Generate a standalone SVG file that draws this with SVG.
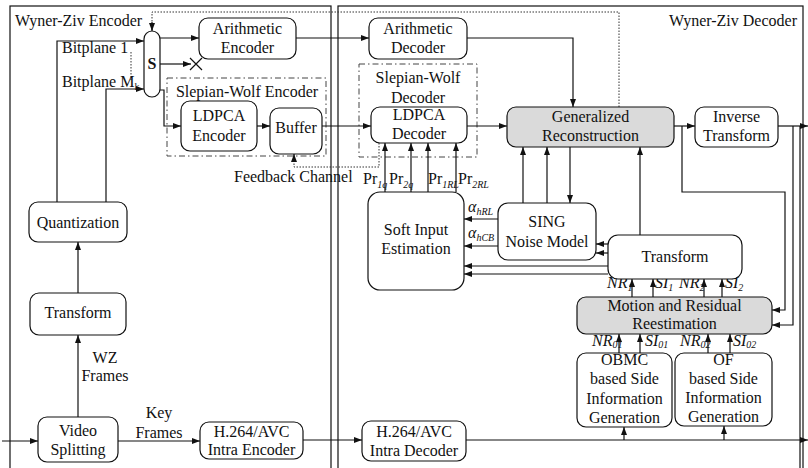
<svg xmlns="http://www.w3.org/2000/svg" width="808" height="468" viewBox="0 0 808 468">
<style>
text{font-family:"Liberation Serif","Times New Roman",serif;font-size:16px;fill:#111}
.c{text-anchor:middle}
.it{font-style:italic}
.sub{font-size:10px;font-style:italic}
.box{fill:#fff;stroke:#111;stroke-width:1.2}
.gray{fill:#dadada;stroke:#111;stroke-width:1.2}
.frame{fill:none;stroke:#111;stroke-width:1.2}
.sw{fill:none;stroke:#444;stroke-width:1;stroke-dasharray:6,3,1.5,3}
.ln{fill:none;stroke:#111;stroke-width:1.2}
.dot{fill:none;stroke:#333;stroke-width:1;stroke-dasharray:1.5,1.5}
</style>
<defs>
<marker id="ah" markerUnits="userSpaceOnUse" markerWidth="9" markerHeight="7" refX="8" refY="3" orient="auto">
<path d="M0,0 L8,3 L0,6 z" fill="#111"/>
</marker>
</defs>
<rect width="808" height="468" fill="#fff"/>
<g id="frames">
<rect class="frame" x="10" y="6" width="321" height="470"/>
<rect class="frame" x="338" y="6" width="465" height="470"/>
<text x="15" y="26">Wyner-Ziv Encoder</text>
<text x="797" y="26" text-anchor="end">Wyner-Ziv Decoder</text>
</g>
<g id="sw-encoder">
<rect class="sw" x="167" y="78" width="159" height="78"/>
<text class="c" x="247" y="97">Slepian-Wolf Encoder</text>
</g>
<g id="sw-decoder">
<rect class="sw" x="359" y="64" width="118" height="93"/>
<text class="c" x="418" y="83">Slepian-Wolf</text>
<text class="c" x="418" y="103">Decoder</text>
</g>
<g id="connectors">
<path class="ln" d="M2,441 H38" marker-end="url(#ah)"/>
<path class="ln" d="M118,441 H200" marker-end="url(#ah)"/>
<path class="ln" d="M78,417 V335" marker-end="url(#ah)"/>
<path class="ln" d="M78,293 V242" marker-end="url(#ah)"/>
<path class="ln" d="M57,202 V41 H144" marker-end="url(#ah)"/>
<path class="ln" d="M106,202 V89 H144" marker-end="url(#ah)"/>
<path class="dot" d="M131,52 V80"/>
<path class="ln" d="M160,38 H199" marker-end="url(#ah)"/>
<path class="ln" d="M160,64 H191" marker-end="url(#ah)"/>
<path class="ln" d="M190,58 L202,70 M190,70 L202,58" stroke-width="1"/>
<path class="ln" d="M160,90 H164 V126 H181" marker-end="url(#ah)"/>
<path class="ln" d="M257,126 H270" marker-end="url(#ah)"/>
<path class="ln" d="M322,126 H371" marker-end="url(#ah)"/>
<path class="ln" d="M296,38 H369" marker-end="url(#ah)"/>
<path class="ln" d="M467,38 H573 V107" marker-end="url(#ah)"/>
<path class="dot" d="M619,107 V12 H152 V30"/>
<path class="ln" d="M152,22 V31" marker-end="url(#ah)"/>
<path class="dot" d="M379,143 V167 H294 V156"/>
<path class="ln" d="M294,160 V154" marker-end="url(#ah)"/>
<path class="ln" d="M303,440 H362" marker-end="url(#ah)"/>
<path class="ln" d="M466,440 H808" marker-end="url(#ah)"/>
<path class="ln" d="M624,440 V427" marker-end="url(#ah)"/>
<path class="ln" d="M724,440 V426" marker-end="url(#ah)"/>
<path class="ln" d="M467,126 H507" marker-end="url(#ah)"/>
<path class="ln" d="M674,126 H695" marker-end="url(#ah)"/>
<path class="ln" d="M778,126 H808" marker-end="url(#ah)"/>
<path class="ln" d="M800,126 V470"/>
<path class="ln" d="M682,126 V192 H785 V310 H772" marker-end="url(#ah)"/>
<path class="ln" d="M793,126 V325 H772" marker-end="url(#ah)"/>
<path class="ln" d="M385,192 V143" marker-end="url(#ah)"/>
<path class="ln" d="M411,192 V143" marker-end="url(#ah)"/>
<path class="ln" d="M428,192 V143" marker-end="url(#ah)"/>
<path class="ln" d="M456,192 V143" marker-end="url(#ah)"/>
<path class="ln" d="M498,219 H464" marker-end="url(#ah)"/>
<path class="ln" d="M498,246 H464" marker-end="url(#ah)"/>
<path class="ln" d="M608,266 H464" marker-end="url(#ah)"/>
<path class="ln" d="M608,274 H464" marker-end="url(#ah)"/>
<path class="ln" d="M608,244 H596" marker-end="url(#ah)"/>
<path class="ln" d="M608,253 H596" marker-end="url(#ah)"/>
<path class="ln" d="M523,203 V147" marker-end="url(#ah)"/>
<path class="ln" d="M547,203 V147" marker-end="url(#ah)"/>
<path class="ln" d="M570,147 V203" marker-end="url(#ah)"/>
<path class="ln" d="M640,235 V147" marker-end="url(#ah)"/>
<path class="ln" d="M632,297 V279" marker-end="url(#ah)"/>
<path class="ln" d="M653,297 V279" marker-end="url(#ah)"/>
<path class="ln" d="M704,297 V279" marker-end="url(#ah)"/>
<path class="ln" d="M722,297 V279" marker-end="url(#ah)"/>
<path class="ln" d="M619,353 V334" marker-end="url(#ah)"/>
<path class="ln" d="M640,353 V334" marker-end="url(#ah)"/>
<path class="ln" d="M708,353 V334" marker-end="url(#ah)"/>
<path class="ln" d="M730,353 V334" marker-end="url(#ah)"/>
</g>
<g id="labels">
<text x="62" y="53">Bitplane 1</text>
<text x="62" y="87">Bitplane M<tspan font-size="10" dy="3">k</tspan></text>
<text x="234" y="182">Feedback Channel</text>
<text class="c" x="105" y="363">WZ</text>
<text class="c" x="105" y="381">Frames</text>
<text class="c" x="159" y="418">Key</text>
<text class="c" x="159" y="438">Frames</text>
<text x="363" y="184">Pr<tspan class="sub" dy="4">1q</tspan></text>
<text x="389" y="184">Pr<tspan class="sub" dy="4">2q</tspan></text>
<text x="428" y="184">Pr<tspan class="sub" dy="4">1RL</tspan></text>
<text x="458" y="184">Pr<tspan class="sub" dy="4">2RL</tspan></text>
<text x="468" y="212" class="it" font-size="18">α<tspan class="sub" dy="3">hRL</tspan></text>
<text x="468" y="238" class="it" font-size="18">α<tspan class="sub" dy="3">hCB</tspan></text>
<text x="607" y="288" class="it">NR<tspan class="sub" dy="3">1</tspan></text>
<text x="655" y="288" class="it">SI<tspan class="sub" dy="3">1</tspan></text>
<text x="679" y="288" class="it">NR<tspan class="sub" dy="3">2</tspan></text>
<text x="725" y="288" class="it">SI<tspan class="sub" dy="3">2</tspan></text>
<text x="592" y="346" class="it">NR<tspan class="sub" font-size="9" dy="2">01</tspan></text>
<text x="645" y="346" class="it">SI<tspan class="sub" font-size="9" dy="2">01</tspan></text>
<text x="680" y="346" class="it">NR<tspan class="sub" font-size="9" dy="2">02</tspan></text>
<text x="733" y="346" class="it">SI<tspan class="sub" font-size="9" dy="2">02</tspan></text>
</g>
<g id="switch">
<rect class="box" x="144" y="31" width="16" height="66" rx="8"/>
<text class="c" x="152" y="69" font-weight="bold">S</text>
</g>
<g id="arith-enc">
<rect class="box" x="199" y="18" width="97" height="41" rx="9"/>
<text class="c" x="247.5" y="34">Arithmetic</text>
<text class="c" x="247.5" y="53">Encoder</text>
</g>
<g id="ldpca-enc">
<rect class="box" x="181" y="101" width="76" height="50" rx="9"/>
<text class="c" x="219" y="121">LDPCA</text>
<text class="c" x="219" y="141">Encoder</text>
</g>
<g id="buffer">
<rect class="box" x="270" y="108" width="52" height="46" rx="9"/>
<text class="c" x="296" y="133">Buffer</text>
</g>
<g id="quantization">
<rect class="box" x="29" y="202" width="98" height="40" rx="9"/>
<text class="c" x="78" y="228">Quantization</text>
</g>
<g id="transform-enc">
<rect class="box" x="30" y="293" width="96" height="42" rx="9"/>
<text class="c" x="78" y="318">Transform</text>
</g>
<g id="video-splitting">
<rect class="box" x="38" y="417" width="80" height="45" rx="9"/>
<text class="c" x="78" y="436">Video</text>
<text class="c" x="78" y="455">Splitting</text>
</g>
<g id="h264-enc">
<rect class="box" x="200" y="422" width="103" height="37" rx="9"/>
<text class="c" x="251.5" y="437">H.264/AVC</text>
<text class="c" x="251.5" y="455">Intra Encoder</text>
</g>
<g id="arith-dec">
<rect class="box" x="369" y="18" width="98" height="41" rx="9"/>
<text class="c" x="418" y="34">Arithmetic</text>
<text class="c" x="418" y="53">Decoder</text>
</g>
<g id="ldpca-dec">
<rect class="box" x="371" y="107" width="96" height="36" rx="9"/>
<text class="c" x="419" y="120">LDPCA</text>
<text class="c" x="419" y="139">Decoder</text>
</g>
<g id="gen-rec">
<rect class="gray" x="507" y="107" width="167" height="40" rx="9"/>
<text class="c" x="590.5" y="122">Generalized</text>
<text class="c" x="590.5" y="141">Reconstruction</text>
</g>
<g id="inv-transform">
<rect class="box" x="695" y="107" width="83" height="40" rx="9"/>
<text class="c" x="736.5" y="122">Inverse</text>
<text class="c" x="736.5" y="141">Transform</text>
</g>
<g id="soft-input">
<rect class="box" x="368" y="192" width="96" height="98" rx="12"/>
<text class="c" x="416" y="235">Soft Input</text>
<text class="c" x="416" y="254">Estimation</text>
</g>
<g id="sing">
<rect class="box" x="498" y="203" width="98" height="57" rx="10"/>
<text class="c" x="547" y="227">SING</text>
<text class="c" x="547" y="247">Noise Model</text>
</g>
<g id="transform-dec">
<rect class="box" x="608" y="235" width="134" height="44" rx="10"/>
<text class="c" x="675" y="262">Transform</text>
</g>
<g id="motion-residual">
<rect class="gray" x="577" y="297" width="195" height="37" rx="9"/>
<text class="c" x="674.5" y="311">Motion and Residual</text>
<text class="c" x="674.5" y="329">Reestimation</text>
</g>
<g id="obmc">
<rect class="box" x="577" y="353" width="95" height="74" rx="9"/>
<text class="c" x="624.5" y="365">OBMC</text>
<text class="c" x="624.5" y="384">based Side</text>
<text class="c" x="624.5" y="404">Information</text>
<text class="c" x="624.5" y="423">Generation</text>
</g>
<g id="of">
<rect class="box" x="675" y="353" width="97" height="73" rx="9"/>
<text class="c" x="723.5" y="365">OF</text>
<text class="c" x="723.5" y="384">based Side</text>
<text class="c" x="723.5" y="403">Information</text>
<text class="c" x="723.5" y="422">Generation</text>
</g>
<g id="h264-dec">
<rect class="box" x="362" y="421" width="104" height="40" rx="9"/>
<text class="c" x="414" y="437">H.264/AVC</text>
<text class="c" x="414" y="456">Intra Decoder</text>
</g>
</svg>
